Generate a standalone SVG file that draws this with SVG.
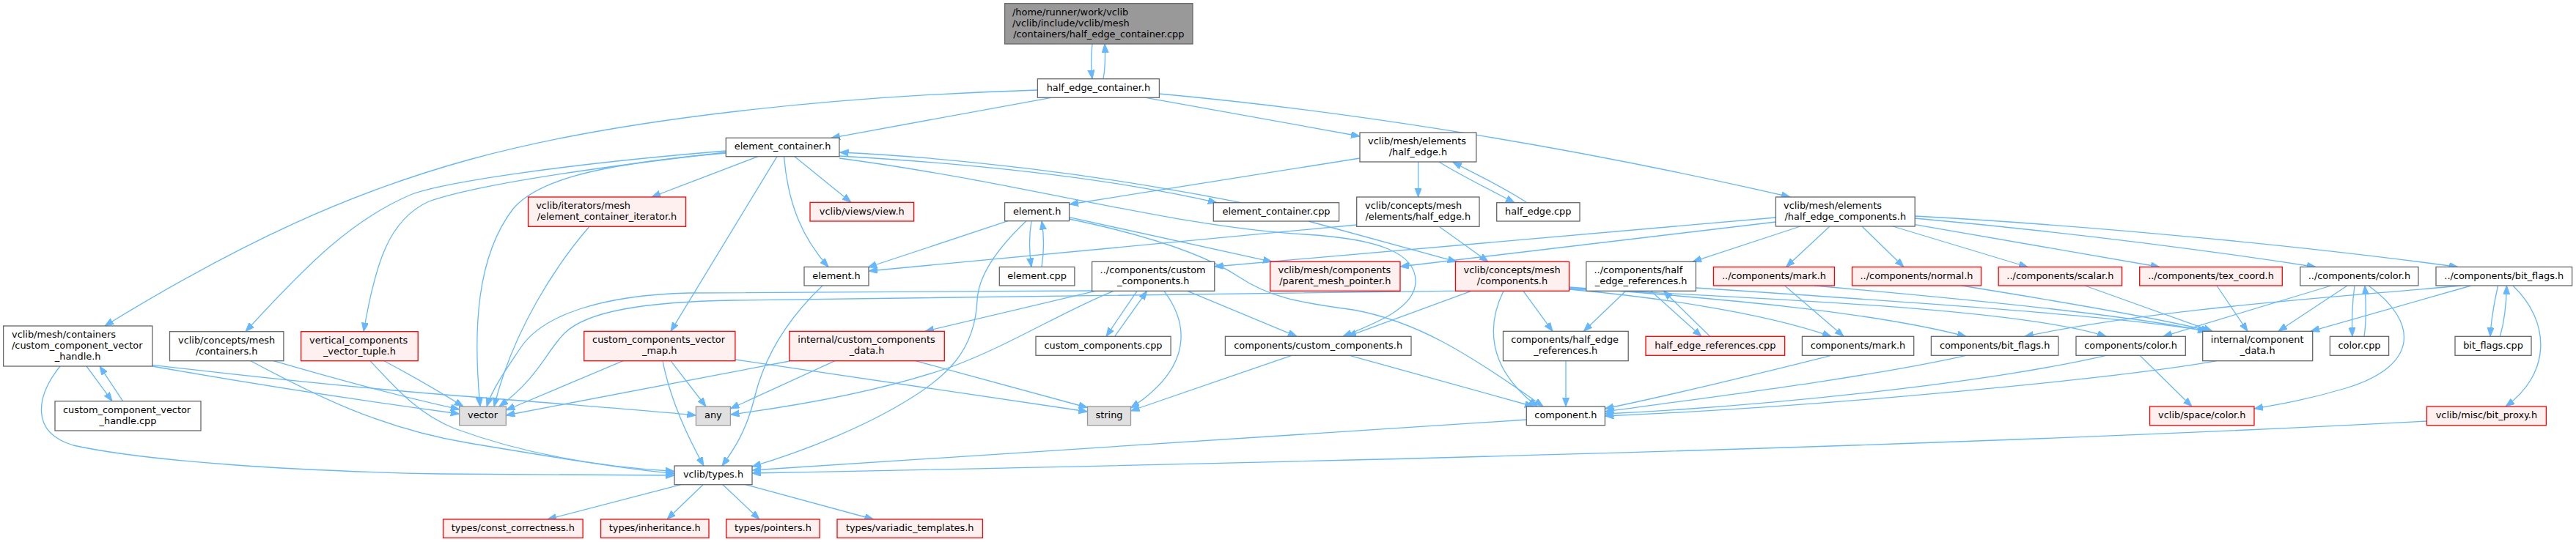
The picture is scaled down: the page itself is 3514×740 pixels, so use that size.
<svg xmlns="http://www.w3.org/2000/svg" width="3514" height="740" viewBox="0 0 3514 740">
<style>
.node rect{stroke-width:1.3}
.n rect{fill:#ffffff;stroke:#666666}
.r rect{fill:#FFF0F0;stroke:#FF0000}
.g rect{fill:#E0E0E0;stroke:#999999}
.root rect{fill:#999999;stroke:#666666}
text{font-family:"DejaVu Sans",sans-serif;font-size:12.9px;fill:#000}
.m{text-anchor:middle}
#edges path{fill:none;stroke:#63B8FF;stroke-width:1.3;marker-end:url(#ah)}
</style>
<defs>
<marker id="ah" markerUnits="userSpaceOnUse" markerWidth="13" markerHeight="10" refX="12" refY="4.5" orient="auto"><path d="M0,0 L12,4.5 L0,9 z" fill="#63B8FF" stroke="#63B8FF" stroke-width="1"/></marker>
</defs>
<rect x="0" y="0" width="3514" height="740" fill="#ffffff"/>
<g id="edges">
<path d="M1490,60 C1488,78 1488,92 1490,107.7"/>
<path d="M1505,107.7 C1508,92 1508,78 1507,60"/>
<path d="M1434,133.3 L1134,188.3"/>
<path d="M1415,123 C1150,131 850,160 640,218 C480,262 330,330 143,445"/>
<path d="M1563,133.3 L1855,186"/>
<path d="M1581,128 C1800,148 2100,190 2442,269"/>
<path d="M1034,213.7 L889,269"/>
<path d="M1060,213.7 L915,452.3"/>
<path d="M1069.5,213.7 C1075,280 1095,325 1130,364.5"/>
<path d="M1084,213.7 L1161,276.3"/>
<path d="M1145,213 C1300,222 1500,240 1660,276.7"/>
<path d="M1693,276.7 C1500,238 1300,215 1145.5,208"/>
<path d="M1145,216 C1400,250 1600,310 1780,320 C1880,326 1932,345 1931,385 C1930,420 1880,440 1832,459.3"/>
<path d="M1855,216 L1459,279"/>
<path d="M1934.6,221 L1934.6,269"/>
<path d="M1963,221 C1990,238 2030,258 2066,276.7"/>
<path d="M2083,276.7 C2050,255 2010,236 1982,221.5"/>
<path d="M1850.7,307 L1185,370"/>
<path d="M1963,309.3 L2030,357.3"/>
<path d="M1785,302 L1987,357.3"/>
<path d="M1375,301.7 L1184,365"/>
<path d="M1407,301.7 C1404,320 1404,345 1407,364.5"/>
<path d="M1421,364.5 C1424,345 1424,320 1421,301.7"/>
<path d="M1458.6,296.7 L1735,357.3"/>
<path d="M1458.6,299 C1560,320 1640,345 1690,378 C1730,405 1770,413 1846,423 C1930,438 2000,480 2105,555"/>
<path d="M1400,301.7 C1370,330 1335,370 1333,410 C1330,480 1290,515 1237,547 C1180,582 1100,615 1026,637"/>
<path d="M1122,390 C1080,430 1045,480 1030,540 C1018,590 1000,615 985,636"/>
<path d="M2082.3,573 L1026,642"/>
<path d="M3310.4,575 Q2500,618 1026,646"/>
<path d="M82,500 C50,540 40,590 100,608 C200,630 400,643 600,647 L920,649"/>
<path d="M118,500 L153,547.7"/>
<path d="M167.6,547.7 L136,500"/>
<path d="M207.8,498.3 C350,515 520,532 620,540 C750,550 880,560 949.4,567"/>
<path d="M207.8,500 C350,525 500,548 626.7,565"/>
<path d="M373,492.7 C450,515 540,540 626.7,559"/>
<path d="M342,492.7 C430,540 520,585 640,605 C760,625 850,640 920,646.5"/>
<path d="M505,492.7 C540,530 570,565 620,585 C720,622 830,638 920,643.5"/>
<path d="M524,492.7 C560,512 600,535 632,555"/>
<path d="M990,206 C760,225 600,250 560,266 C480,300 420,360 335,452.7"/>
<path d="M990,208 C800,230 650,252 585,275 C530,300 512,360 496,452.7"/>
<path d="M990,209 C800,225 730,250 700,285 C650,350 645,450 655,555"/>
<path d="M804,309.3 C760,360 700,450 674,555"/>
<path d="M850,492.7 L690.3,560"/>
<path d="M904,492.7 C915,550 940,600 960,636"/>
<path d="M915,492.7 L963,555"/>
<path d="M1003,491 L1483.5,562"/>
<path d="M1077,493 L690.3,567"/>
<path d="M1139,492.7 L996.4,558"/>
<path d="M1249,492.7 L1483.5,556.5"/>
<path d="M1494,397.3 L1262,452.3"/>
<path d="M1490,397 L940,400 C820,403 740,430 710,475 C690,505 672,530 664,555"/>
<path d="M1519,397.3 C1450,425 1380,470 1300,500 C1200,535 1080,555 996.4,566"/>
<path d="M1588,397.3 C1620,440 1630,500 1542.4,557"/>
<path d="M1551,397.3 L1509,459.3"/>
<path d="M1520.6,459.3 L1564.6,397.3"/>
<path d="M1620,397.3 L1769,459.3"/>
<path d="M1762,485.3 L1542.4,561"/>
<path d="M1841,485.3 L2092,555"/>
<path d="M2007,397.3 L1838,459.3"/>
<path d="M2051,397.3 C2030,440 2025,500 2097,555"/>
<path d="M2078,397.3 L2118,452.3"/>
<path d="M2140.5,395 C2250,405 2400,425 2498,459.3"/>
<path d="M2140.5,392 C2350,408 2550,425 2682,459.3"/>
<path d="M2140.5,393.5 C2400,408 2750,420 2873,459.3"/>
<path d="M2217.8,397.3 L2160.4,452.3"/>
<path d="M2252,397.3 L2321,459.3"/>
<path d="M2332.6,459.3 L2269.4,397.3"/>
<path d="M2313.4,393 C2600,412 2900,432 3012,452.3"/>
<path d="M2164,395 L1000,410 C880,412 800,425 770,455 C745,480 735,515 681,555"/>
<path d="M2434.6,390 L2515,459.3"/>
<path d="M2475,390 C2700,410 2900,430 3010,452.3"/>
<path d="M2676,390 C2800,410 2950,435 3015,452.3"/>
<path d="M2844,390 L3018,452.3"/>
<path d="M3024,390 L3066,452.3"/>
<path d="M3180,390 L2951,459.3"/>
<path d="M3202,390 L3108,452.3"/>
<path d="M3212,390 C3208,420 3208,440 3209,459.3"/>
<path d="M3225,459.3 C3228,440 3228,420 3226,390"/>
<path d="M3231,390 C3300,440 3300,500 3200,530 C3150,545 3110,552 3075,558"/>
<path d="M3357,390 C3200,405 2950,420 2762,459.3"/>
<path d="M3371,390 L3152,452.3"/>
<path d="M3407.6,390 C3402,415 3398,440 3397,459.3"/>
<path d="M3410.4,459.3 C3416,440 3419,415 3419.4,390"/>
<path d="M3428,390 C3480,440 3480,510 3418,555"/>
<path d="M2919,485.3 L2990,555"/>
<path d="M3024,492.7 C2900,515 2500,555 2189.4,568"/>
<path d="M2498,485.3 C2400,510 2300,535 2189.4,558"/>
<path d="M2682,485.3 C2550,515 2350,540 2189.4,562"/>
<path d="M2873,485.3 C2700,525 2400,555 2189.4,565"/>
<path d="M2136,492.7 L2136,555"/>
<path d="M2422.4,297 L1656.8,364"/>
<path d="M2422.4,303 L1910,364"/>
<path d="M2456,309 L2309,357.3"/>
<path d="M2496,309 L2436.5,364.5"/>
<path d="M2540,309 L2597,364.5"/>
<path d="M2582,309 L2766,364.5"/>
<path d="M2612.2,306.7 L2946,364.5"/>
<path d="M2612.2,298 C2800,315 3000,340 3159,364.5"/>
<path d="M2612.2,295 C2800,305 3100,330 3353,364.5"/>
<path d="M929,661.7 L747,709"/>
<path d="M959,661.7 L910,709"/>
<path d="M986,661.7 L1036,709"/>
<path d="M1017,661.7 L1191.5,709"/>
</g>
<g id="n1" class="node root"><rect x="1370.6" y="4.7" width="256.4" height="55.3"/><text><tspan x="1381" y="20.7">/home/runner/work/vclib</tspan><tspan x="1381" y="35.7">/vclib/include/vclib/mesh</tspan><tspan x="1498.8" y="50.7" class="m">/containers/half_edge_container.cpp</tspan></text></g>
<g id="n2" class="node n"><rect x="1415.4" y="107.7" width="166" height="25.6"/><text class="m" x="1498.4" y="123.8">half_edge_container.h</text></g>
<g id="n3" class="node n"><rect x="990.3" y="188.3" width="154.6" height="25.4"/><text class="m" x="1067.6" y="204.3">element_container.h</text></g>
<g id="n4" class="node n"><rect x="1855" y="181" width="158.8" height="40"/><text><tspan x="1866" y="196.8">vclib/mesh/elements</tspan><tspan x="1934.4" y="211.8" class="m">/half_edge.h</tspan></text></g>
<g id="n5" class="node n"><rect x="2422.4" y="269" width="189.8" height="40"/><text><tspan x="2433" y="284.8">vclib/mesh/elements</tspan><tspan x="2517.3" y="299.8" class="m">/half_edge_components.h</tspan></text></g>
<g id="n6" class="node n"><rect x="4.6" y="445" width="203.2" height="55"/><text><tspan x="16" y="460.8">vclib/mesh/containers</tspan><tspan x="16" y="475.8">/custom_component_vector</tspan><tspan x="106.2" y="490.8" class="m">_handle.h</tspan></text></g>
<g id="n7" class="node r"><rect x="720.5" y="269" width="215.1" height="40.3"/><text><tspan x="731.2" y="285">vclib/iterators/mesh</tspan><tspan x="828" y="300" class="m">/element_container_iterator.h</tspan></text></g>
<g id="n8" class="node r"><rect x="1105" y="276.3" width="141.6" height="25.7"/><text class="m" x="1175.8" y="292.5">vclib/views/view.h</text></g>
<g id="n9" class="node n"><rect x="1370.6" y="276.7" width="88" height="25"/><text class="m" x="1414.6" y="292.5">element.h</text></g>
<g id="n10" class="node n"><rect x="1655.3" y="276.7" width="171.3" height="25.3"/><text class="m" x="1741" y="292.6">element_container.cpp</text></g>
<g id="n11" class="node n"><rect x="1850.7" y="269" width="167.3" height="40.3"/><text><tspan x="1862" y="285">vclib/concepts/mesh</tspan><tspan x="1934.3" y="300" class="m">/elements/half_edge.h</tspan></text></g>
<g id="n12" class="node n"><rect x="2041.7" y="276.7" width="113.3" height="25.3"/><text class="m" x="2098.3" y="292.6">half_edge.cpp</text></g>
<g id="n13" class="node n"><rect x="1097" y="364.5" width="88" height="25.5"/><text class="m" x="1141" y="380.5">element.h</text></g>
<g id="n14" class="node n"><rect x="1363.3" y="364.5" width="102.6" height="25.5"/><text class="m" x="1414.6" y="380.5">element.cpp</text></g>
<g id="n15" class="node n"><rect x="1489.6" y="357.3" width="167.2" height="40"/><text><tspan x="1500.6" y="373.1">../components/custom</tspan><tspan x="1573.2" y="388.1" class="m">_components.h</tspan></text></g>
<g id="n16" class="node r"><rect x="1732.6" y="357.3" width="177.4" height="40"/><text><tspan x="1743.5" y="373.1">vclib/mesh/components</tspan><tspan x="1821.3" y="388.1" class="m">/parent_mesh_pointer.h</tspan></text></g>
<g id="n17" class="node r"><rect x="1985.5" y="357.3" width="155" height="40"/><text><tspan x="1996.5" y="373.1">vclib/concepts/mesh</tspan><tspan x="2063" y="388.1" class="m">/components.h</tspan></text></g>
<g id="n18" class="node n"><rect x="2163.8" y="357.3" width="149.6" height="40"/><text><tspan x="2174.5" y="373.1">../components/half</tspan><tspan x="2238.6" y="388.1" class="m">_edge_references.h</tspan></text></g>
<g id="n19" class="node r"><rect x="2337.5" y="364.5" width="164.9" height="25.5"/><text class="m" x="2420" y="380.5">../components/mark.h</text></g>
<g id="n20" class="node r"><rect x="2526.5" y="364.5" width="176" height="25.5"/><text class="m" x="2614.5" y="380.5">../components/normal.h</text></g>
<g id="n21" class="node r"><rect x="2726.2" y="364.5" width="168.4" height="25.5"/><text class="m" x="2810.4" y="380.5">../components/scalar.h</text></g>
<g id="n22" class="node r"><rect x="2918.7" y="364.5" width="194.6" height="25.5"/><text class="m" x="3016" y="380.5">../components/tex_coord.h</text></g>
<g id="n23" class="node n"><rect x="3137.8" y="364.5" width="161.1" height="25.5"/><text class="m" x="3218.4" y="380.5">../components/color.h</text></g>
<g id="n24" class="node n"><rect x="3323" y="364.5" width="185.6" height="25.5"/><text class="m" x="3415.8" y="380.5">../components/bit_flags.h</text></g>
<g id="n25" class="node n"><rect x="75" y="547.7" width="199" height="40.3"/><text><tspan x="86" y="563.6">custom_component_vector</tspan><tspan x="174.5" y="578.6" class="m">_handle.cpp</tspan></text></g>
<g id="n26" class="node n"><rect x="231.5" y="452.7" width="155.4" height="40"/><text><tspan x="243" y="468.5">vclib/concepts/mesh</tspan><tspan x="309.2" y="483.5" class="m">/containers.h</tspan></text></g>
<g id="n27" class="node r"><rect x="410.6" y="452.7" width="159.6" height="40"/><text><tspan x="422" y="468.5">vertical_components</tspan><tspan x="490.4" y="483.5" class="m">_vector_tuple.h</tspan></text></g>
<g id="n28" class="node r"><rect x="796.7" y="452.3" width="206.2" height="40.4"/><text><tspan x="808.1" y="468.3">custom_components_vector</tspan><tspan x="899.8" y="483.3" class="m">_map.h</tspan></text></g>
<g id="n29" class="node r"><rect x="1076.8" y="452.3" width="211.5" height="40.4"/><text><tspan x="1088.3" y="468.3">internal/custom_components</tspan><tspan x="1182.5" y="483.3" class="m">_data.h</tspan></text></g>
<g id="n30" class="node n"><rect x="1413" y="459.3" width="184.1" height="26"/><text class="m" x="1505" y="475.6">custom_components.cpp</text></g>
<g id="n31" class="node n"><rect x="1671.4" y="459.3" width="253.6" height="26"/><text class="m" x="1798.2" y="475.6">components/custom_components.h</text></g>
<g id="n32" class="node n"><rect x="2050.5" y="452.3" width="170.7" height="40.4"/><text><tspan x="2061.2" y="468.3">components/half_edge</tspan><tspan x="2135.8" y="483.3" class="m">_references.h</tspan></text></g>
<g id="n33" class="node r"><rect x="2245" y="459.3" width="189.6" height="26"/><text class="m" x="2339.8" y="475.6">half_edge_references.cpp</text></g>
<g id="n34" class="node n"><rect x="2458.4" y="459.3" width="152.3" height="26"/><text class="m" x="2534.5" y="475.6">components/mark.h</text></g>
<g id="n35" class="node n"><rect x="2634.4" y="459.3" width="173.4" height="26"/><text class="m" x="2721.1" y="475.6">components/bit_flags.h</text></g>
<g id="n36" class="node n"><rect x="2832" y="459.3" width="149.3" height="26"/><text class="m" x="2906.6" y="475.6">components/color.h</text></g>
<g id="n37" class="node n"><rect x="3004.7" y="452.3" width="150" height="40.4"/><text><tspan x="3015.8" y="468.3">internal/component</tspan><tspan x="3079.7" y="483.3" class="m">_data.h</tspan></text></g>
<g id="n38" class="node n"><rect x="3178.4" y="459.3" width="80.2" height="26"/><text class="m" x="3218.5" y="475.6">color.cpp</text></g>
<g id="n39" class="node n"><rect x="3349" y="459.3" width="104" height="26"/><text class="m" x="3401" y="475.6">bit_flags.cpp</text></g>
<g id="n40" class="node g"><rect x="626.7" y="555" width="63.6" height="25.7"/><text class="m" x="658.5" y="571.2">vector</text></g>
<g id="n41" class="node g"><rect x="949.4" y="555" width="47" height="25.7"/><text class="m" x="972.9" y="571.2">any</text></g>
<g id="n42" class="node g"><rect x="1483.5" y="555" width="59" height="25.7"/><text class="m" x="1513" y="571.2">string</text></g>
<g id="n43" class="node n"><rect x="2082.3" y="555" width="107.1" height="25.7"/><text class="m" x="2135.9" y="571.2">component.h</text></g>
<g id="n44" class="node r"><rect x="2932.5" y="555" width="142.5" height="25.7"/><text class="m" x="3003.8" y="571.2">vclib/space/color.h</text></g>
<g id="n45" class="node r"><rect x="3310.4" y="555" width="163" height="25.7"/><text class="m" x="3391.9" y="571.2">vclib/misc/bit_proxy.h</text></g>
<g id="n46" class="node n"><rect x="920" y="636" width="106" height="25.7"/><text class="m" x="973" y="652.1">vclib/types.h</text></g>
<g id="n47" class="node r"><rect x="604.5" y="709" width="190.6" height="25.3"/><text class="m" x="699.8" y="725">types/const_correctness.h</text></g>
<g id="n48" class="node r"><rect x="819.6" y="709" width="147.4" height="25.3"/><text class="m" x="893.3" y="725">types/inheritance.h</text></g>
<g id="n49" class="node r"><rect x="990.7" y="709" width="127.4" height="25.3"/><text class="m" x="1054.4" y="725">types/pointers.h</text></g>
<g id="n50" class="node r"><rect x="1142" y="709" width="198.4" height="25.3"/><text class="m" x="1241.2" y="725">types/variadic_templates.h</text></g>
</svg>
